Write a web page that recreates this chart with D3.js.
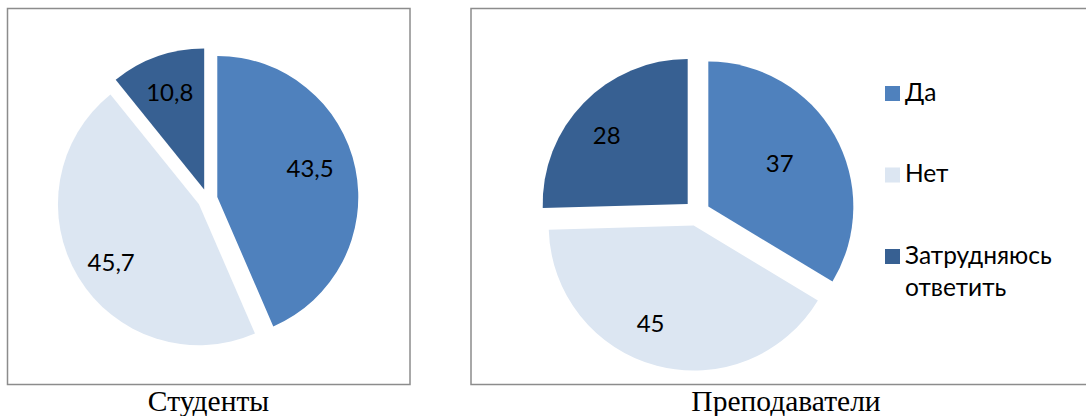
<!DOCTYPE html>
<html><head><meta charset="utf-8">
<script src="https://cdn.jsdelivr.net/npm/d3@7"></script>
<style>body{margin:0;background:#fff}svg{display:block}</style>
</head><body>
<svg id="c" width="1086" height="416"></svg>
<script>
const categories = ["Да", "Нет", "Затрудняюсь ответить"];
const studentsValues = [43.5, 45.7, 10.8];
const teachersValues = [37, 45, 28];
const studentsLabels = ["43,5", "45,7", "10,8"];
const teachersLabels = ["37", "45", "28"];
const chartTitles = ["Студенты", "Преподаватели"];
const colors = ["#4F81BD", "#DCE6F2", "#376092"];

const svg = d3.select("#c");
const labelFont = "Lato, 'Noto Sans', sans-serif";
const color = d3.scaleOrdinal().domain(categories).range(colors);

// panels
svg.append("rect").attr("x", 7.5).attr("y", 8.5).attr("width", 402.5).attr("height", 376)
  .attr("fill", "#fff").attr("stroke", "#8c8c8c").attr("stroke-width", 1.5);
svg.append("rect").attr("x", 471).attr("y", 8.5).attr("width", 640).attr("height", 376)
  .attr("fill", "#fff").attr("stroke", "#8c8c8c").attr("stroke-width", 1.5);

// label placement (layout): radial factor and angular nudge (degrees) per slice
function drawPie(values, labels, cx, cy, r, explode, labelK, labelNudge) {
  const data = categories.map((c, i) => ({cat: c, v: values[i], lab: labels[i]}));
  const pie = d3.pie().value(d => d.v).sort(null);
  const arcs = pie(data);
  const arc = d3.arc().innerRadius(0).outerRadius(r);
  const g = svg.append("g").attr("transform", `translate(${cx},${cy})`);
  const s = g.selectAll("g.sl").data(arcs).join("g").attr("class", "sl")
    .attr("transform", d => {
      const a = (d.startAngle + d.endAngle) / 2;
      return `translate(${explode * Math.sin(a)},${-explode * Math.cos(a)})`;
    });
  s.append("path").attr("d", arc).attr("fill", d => color(d.data.cat));
  const la = (d, i) => (d.startAngle + d.endAngle) / 2 + labelNudge[i] * Math.PI / 180;
  s.append("text")
    .attr("x", (d, i) => labelK[i] * r * Math.sin(la(d, i)))
    .attr("y", (d, i) => -labelK[i] * r * Math.cos(la(d, i)))
    .attr("text-anchor", "middle").attr("dominant-baseline", "central")
    .attr("font-family", labelFont).attr("font-size", 24).attr("fill", "#000")
    .text(d => d.data.lab);
}

drawPie(studentsValues, studentsLabels, 207.5, 199, 141, 10, [0.69, 0.745, 0.74], [-5.7, -2.2, 0.2]);
drawPie(teachersValues, teachersLabels, 697, 213, 145, 13, [0.58, 0.73, 0.735], [-2.5, 9.3, -3.6]);

// legend
const leg = svg.append("g");
const legendY = d3.scalePoint().domain(categories).range([86, 249]);
categories.forEach((c, i) => {
  const y = legendY(c);
  leg.append("rect").attr("x", 885).attr("y", y).attr("width", 15).attr("height", 15).attr("fill", color(c));
  const words = i === 2 ? ["Затрудняюсь", "ответить"] : [c];
  const t = leg.append("text").attr("x", 905).attr("y", y + 14.5)
    .attr("font-family", labelFont).attr("font-size", 24.5).attr("fill", "#000");
  words.forEach((w, j) => t.append("tspan").attr("x", 905).attr("dy", j ? 32.5 : 0).text(w));
});

// titles
const titleX = [208.5, 786];
chartTitles.forEach((t, i) => {
  svg.append("text").attr("x", titleX[i]).attr("y", 410.5).attr("text-anchor", "middle")
    .attr("font-family", "'Liberation Serif', 'Times New Roman', serif").attr("font-size", 29.5)
    .attr("fill", "#000").text(t);
});
</script>
</body></html>
